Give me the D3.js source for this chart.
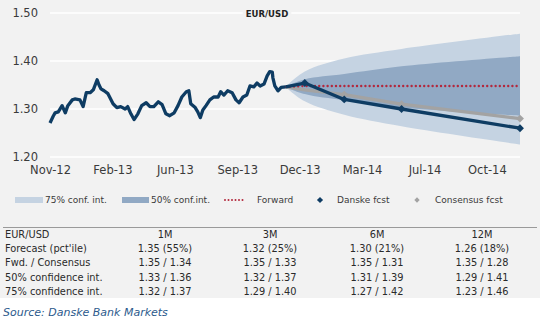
<!DOCTYPE html>
<html><head><meta charset="utf-8">
<script src="https://cdn.jsdelivr.net/npm/d3@7"></script>
<style>body{margin:0;background:#fff}svg{display:block}text{font-family:"DejaVu Sans",sans-serif}</style>
</head><body><svg id="c" width="540" height="325"></svg>
<script>
// ---------- data ----------
const histDates = ["2012-11-20","2012-11-25","2012-11-28","2012-12-03","2012-12-09","2012-12-14","2012-12-18","2012-12-25","2012-12-29","2013-01-06","2013-01-11","2013-01-16","2013-01-22","2013-01-27","2013-02-02","2013-02-05","2013-02-08","2013-02-13","2013-02-19","2013-02-27","2013-03-05","2013-03-11","2013-03-18","2013-03-22","2013-03-27","2013-04-01","2013-04-07","2013-04-13","2013-04-20","2013-04-26","2013-05-02","2013-05-09","2013-05-15","2013-05-21","2013-05-27","2013-06-03","2013-06-09","2013-06-15","2013-06-22","2013-06-26","2013-06-29","2013-07-06","2013-07-10","2013-07-14","2013-07-18","2013-07-23","2013-07-29","2013-08-04","2013-08-11","2013-08-15","2013-08-20","2013-08-26","2013-09-02","2013-09-08","2013-09-13","2013-09-19","2013-09-25","2013-09-30","2013-10-06","2013-10-11","2013-10-16","2013-10-22","2013-10-27","2013-10-31","2013-11-04","2013-11-05","2013-11-08","2013-11-13","2013-11-18","2013-11-25"];
const histValues = [1.271,1.285,1.292,1.294,1.307,1.292,1.307,1.319,1.321,1.319,1.305,1.334,1.334,1.340,1.361,1.350,1.342,1.338,1.332,1.311,1.303,1.305,1.300,1.305,1.290,1.278,1.290,1.307,1.313,1.305,1.305,1.315,1.309,1.290,1.286,1.292,1.307,1.325,1.336,1.338,1.311,1.303,1.294,1.282,1.298,1.307,1.319,1.325,1.325,1.336,1.329,1.338,1.334,1.319,1.313,1.325,1.329,1.348,1.346,1.354,1.348,1.352,1.369,1.378,1.377,1.365,1.348,1.338,1.345,1.346];

const fcstDates = ["2013-11-25","2013-12-25","2014-02-25","2014-05-26","2014-11-28"]; // spot, 1M, 3M, 6M, 12M
const danske    = [1.346,1.354,1.320,1.300,1.260];
const consensus = [1.346,1.340,1.330,1.310,1.280];
const forward   = [1.346,1.348,1.348,1.348,1.348];
const ci50Low   = [1.346,1.331,1.318,1.303,1.286];
const ci50High  = [1.346,1.362,1.373,1.389,1.410];
const ci75Low   = [1.346,1.316,1.288,1.264,1.226];
const ci75High  = [1.346,1.378,1.405,1.425,1.457];

const yTicks = [1.20,1.30,1.40,1.50];
const xStart = "2012-11-20", xEnd = "2014-11-28", tickStepDays = 98, tickCount = 8;

const legendLabels = ["75% conf. int.","50% conf.int.","Forward","Danske fcst","Consensus fcst"];

const tableHeader = ["EUR/USD","1M","3M","6M","12M"];
const tableRows = [
  ["Forecast (pct'ile)","1.35 (55%)","1.32 (25%)","1.30 (21%)","1.26 (18%)"],
  ["Fwd. / Consensus","1.35 / 1.34","1.35 / 1.33","1.35 / 1.31","1.35 / 1.28"],
  ["50% confidence int.","1.33 / 1.36","1.32 / 1.37","1.31 / 1.39","1.29 / 1.41"],
  ["75% confidence int.","1.32 / 1.37","1.29 / 1.40","1.27 / 1.42","1.23 / 1.46"]
];
const sourceText = "Source: Danske Bank Markets";
const title = "EUR/USD";

// ---------- drawing ----------
const parse = d3.utcParse("%Y-%m-%d");
const svg = d3.select("#c");
const C = {panel:"#f2f2f2", navy:"#0e3c63", grey:"#a3a3a3", red:"#b3283d", c75:"#c5d3e2", c50:"#91a9c4", text:"#3a3a3a"};

svg.append("rect").attr("x",0).attr("y",0).attr("width",540).attr("height",298).attr("fill",C.panel);

const x = d3.scaleUtc().domain([parse(xStart), parse(xEnd)]).range([50,520]);
const y = d3.scaleLinear().domain([1.20,1.50]).range([157,13]);

// grid
svg.append("g").selectAll("line").data(yTicks).join("line")
  .attr("x1",50).attr("x2",520).attr("y1",d=>y(d)).attr("y2",d=>y(d))
  .attr("stroke","#fff").attr("stroke-width",1.6);

// y axis labels
svg.append("g").selectAll("text").data(yTicks).join("text")
  .attr("x",38).attr("y",d=>y(d)).attr("dy","0.36em").attr("text-anchor","end")
  .attr("font-size",11.5).attr("fill",C.text).text(d=>d.toFixed(2));

// x axis
const t0 = parse(xStart);
const xTickVals = d3.range(tickCount).map(i=>d3.utcDay.offset(t0, i*tickStepDays));
const xAxis = d3.axisBottom(x).tickValues(xTickVals).tickFormat(d3.utcFormat("%b-%y")).tickSize(0).tickPadding(0);
const gx = svg.append("g").attr("transform","translate(0,166)").call(xAxis);
gx.select(".domain").remove();
gx.selectAll("text").attr("font-size",11.5).attr("fill",C.text).attr("font-family","DejaVu Sans").attr("dy","0.71em");

// title with background
const titleBg = svg.append("rect").attr("fill",C.panel);
const tt = svg.append("text").attr("x",267).attr("y",14).attr("dy","0.35em").attr("text-anchor","middle")
  .attr("font-size",8.5).attr("font-weight","bold").attr("fill","#222").text(title);
const bb = tt.node().getBBox();
titleBg.attr("x",bb.x-3).attr("y",bb.y).attr("width",bb.width+6).attr("height",bb.height);

// forecast series
const fd = fcstDates.map(parse);
const band = (lo,hi)=>d3.area().x((d,i)=>x(fd[i])).y0((d,i)=>y(lo[i])).y1((d,i)=>y(hi[i])).curve(d3.curveCatmullRom.alpha(0.5))(fd);
const plot = svg.append("g");
plot.append("path").attr("d",band(ci75Low,ci75High)).attr("fill",C.c75);
plot.append("path").attr("d",band(ci50Low,ci50High)).attr("fill",C.c50);

const line = vals=>d3.line().x((d,i)=>x(fd[i])).y((d,i)=>y(vals[i]))(fd);
plot.append("path").attr("d",line(consensus)).attr("fill","none").attr("stroke",C.grey).attr("stroke-width",3.2);
plot.append("path").attr("d",line(forward)).attr("fill","none").attr("stroke",C.red).attr("stroke-width",2.4)
  .attr("stroke-linecap","round").attr("stroke-dasharray","0,4.2");

const diamond = d3.symbol().type(d3.symbolDiamond2).size(40);
plot.selectAll(".cm").data(consensus.slice(2)).join("path")
  .attr("transform",(d,i)=>`translate(${x(fd[i+2])},${y(d)})`).attr("d",diamond).attr("fill",C.grey);

// history
const hd = histDates.map(parse);
plot.append("path").attr("d",d3.line().x((d,i)=>x(hd[i])).y((d,i)=>y(histValues[i]))(hd))
  .attr("fill","none").attr("stroke",C.navy).attr("stroke-width",3.3).attr("stroke-linejoin","round");
plot.append("path").attr("d",line(danske)).attr("fill","none").attr("stroke",C.navy).attr("stroke-width",3.3).attr("stroke-linejoin","round");
plot.selectAll(".dm").data(danske.slice(1)).join("path")
  .attr("transform",(d,i)=>`translate(${x(fd[i+1])},${y(d)})`).attr("d",diamond).attr("fill",C.navy);

// legend
const lg = svg.append("g").attr("font-size",9).attr("fill",C.text);
const ly = 200;
lg.append("rect").attr("x",15).attr("y",ly-3).attr("width",28).attr("height",6).attr("fill",C.c75);
lg.append("text").attr("x",45).attr("y",ly).attr("dy","0.35em").text(legendLabels[0]);
lg.append("rect").attr("x",122).attr("y",ly-3).attr("width",27).attr("height",6).attr("fill",C.c50);
lg.append("text").attr("x",151).attr("y",ly).attr("dy","0.35em").text(legendLabels[1]);
lg.append("line").attr("x1",225).attr("x2",243).attr("y1",ly).attr("y2",ly).attr("stroke",C.red).attr("stroke-width",2)
  .attr("stroke-linecap","round").attr("stroke-dasharray","0,3.5");
lg.append("text").attr("x",257).attr("y",ly).attr("dy","0.35em").text(legendLabels[2]);
lg.append("path").attr("transform",`translate(320,${ly})`).attr("d",d3.symbol().type(d3.symbolDiamond2).size(24)).attr("fill",C.navy);
lg.append("text").attr("x",337).attr("y",ly).attr("dy","0.35em").text(legendLabels[3]);
lg.append("path").attr("transform",`translate(417,${ly})`).attr("d",d3.symbol().type(d3.symbolDiamond2).size(18)).attr("fill",C.grey);
lg.append("text").attr("x",435).attr("y",ly).attr("dy","0.35em").text(legendLabels[4]);

// table
svg.append("line").attr("x1",3).attr("x2",537).attr("y1",227.5).attr("y2",227.5).attr("stroke","#9a9a9a").attr("stroke-width",1);
const colX = [5,165,270,377,482];
const rowY = [234,248,262.5,277,291];
const tg = svg.append("g").attr("font-size",9.8).attr("fill","#2a2a2a");
[tableHeader, ...tableRows].forEach((row,ri)=>{
  row.forEach((cell,ci)=>{
    tg.append("text").attr("x",colX[ci]).attr("y",rowY[ri]).attr("dy","0.36em")
      .attr("text-anchor",ci===0?"start":"middle").text(cell);
  });
});

svg.append("text").attr("x",3).attr("y",312).attr("dy","0.35em").attr("font-size",11).attr("font-style","italic")
  .attr("fill","#2c5a8c").text(sourceText);
</script></body></html>
